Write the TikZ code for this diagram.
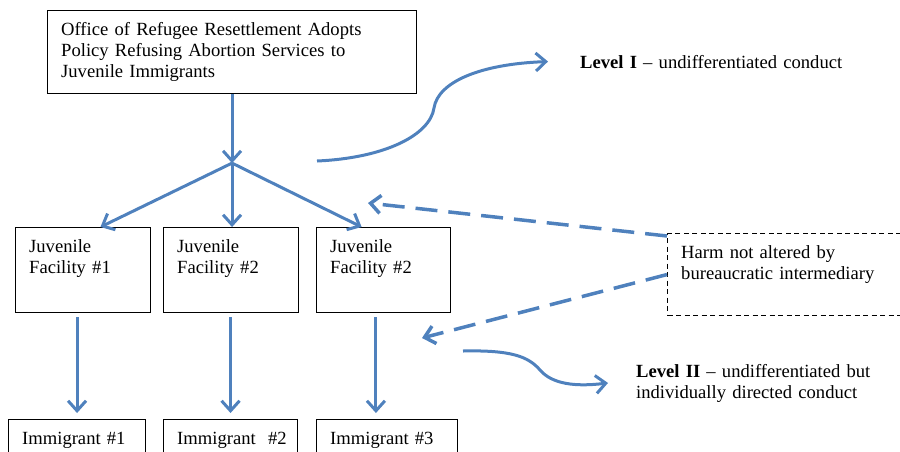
\documentclass[tikz,border=0pt]{standalone}
\usepackage{fontspec}
\setmainfont{Liberation Serif}
\usepackage{tikz}
\usetikzlibrary{arrows.meta}
\definecolor{linkblue}{RGB}{79,129,189}

\begin{document}
\begin{tikzpicture}[x=1pt,y=-1pt,
        font=\fontsize{18.6}{21}\selectfont,
        box/.style={draw, line width=1.1pt, anchor=north west, inner sep=0pt},
        txt/.style={anchor=base west, inner sep=0pt, align=left, text width=#1},
        inbox/.style={txt=330pt, xshift=14pt, yshift=-25pt},
        link/.style={draw=linkblue, line width=3pt, -{Straight Barb[length=10pt,width=18pt]}},
        dashlink/.style={link, line width=3.5pt, dash pattern=on 22pt off 11pt}]
        \useasboundingbox (0,0) rectangle (900,451);
        \node[box, minimum width=369pt, minimum height=83pt, label={[inbox]north west:Office of Refugee Resettlement Adopts\\Policy Refusing Abortion Services to\\Juvenile Immigrants}] (orr) at (47,10) {};
        \node[box, minimum width=135pt, minimum height=85pt, label={[inbox]north west:Juvenile\\Facility \#1}] (fac1) at (15,227) {};
        \node[box, minimum width=135pt, minimum height=85pt, label={[inbox]north west:Juvenile\\Facility \#2}] (fac2) at (163,227) {};
        \node[box, minimum width=134pt, minimum height=85pt, label={[inbox]north west:Juvenile\\Facility \#2}] (fac3) at (316,227) {};
        \node[box, minimum width=137pt, minimum height=60pt, label={[inbox]north west:Immigrant \#1}] (imm1) at (8,419) {};
        \node[box, minimum width=134pt, minimum height=60pt, label={[inbox]north west:Immigrant~ \#2}] (imm2) at (163,419) {};
        \node[box, minimum width=141pt, minimum height=60pt, label={[inbox]north west:Immigrant \#3}] (imm3) at (316,419) {};
        \node[box, dash pattern=on 5pt off 3.5pt, minimum width=250pt, minimum height=82pt, label={[inbox]north west:Harm not altered by\\bureaucratic intermediary}] (harm) at (667,233) {};
        \node[txt=300pt] (lvl1) at (580,68) {\textbf{Level I} -- undifferentiated conduct};
        \node[txt=260pt] (lvl2) at (636,377) {\textbf{Level II} -- undifferentiated but\\individually directed conduct};

        \coordinate (junc) at ([yshift=-69pt]orr.south);
        \coordinate (bend1) at (317,161);
        \coordinate (bend2) at (463,351);
        \coordinate (back1) at (368,203);
        \coordinate (back2) at (422,338);

        \path[link] (orr.south) -- (junc);
        \path[link] (junc) -- (fac1.68);
        \path[link] (junc) -- (junc |- fac2.north);
        \path[link] (junc) -- (fac3.117);
        \path[link, shorten <=4pt, shorten >=6pt] (fac1.south -| imm1.north) -- (imm1.north);
        \path[link, shorten <=4pt, shorten >=6pt] (fac2.south -| imm2.north) -- (imm2.north);
        \path[link, shorten <=4pt, shorten >=6pt] (fac3.south -| imm3.110) -- (imm3.110);
        \path[link] (bend1) .. controls (385,158) and (430,135) .. (434,108) .. controls (438,82) and (480,64) .. ([xshift=-32pt]lvl1.west);
        \path[link] (bend2) .. controls (510,350) and (528,356) .. (540,370) .. controls (552,384) and (575,387) .. ([xshift=-28pt]lvl2.west);
        \path[dashlink] ([yshift=-3pt]harm.north west) -- (back1);
        \path[dashlink] (harm.west) -- (back2);
    \end{tikzpicture}
\end{document}
